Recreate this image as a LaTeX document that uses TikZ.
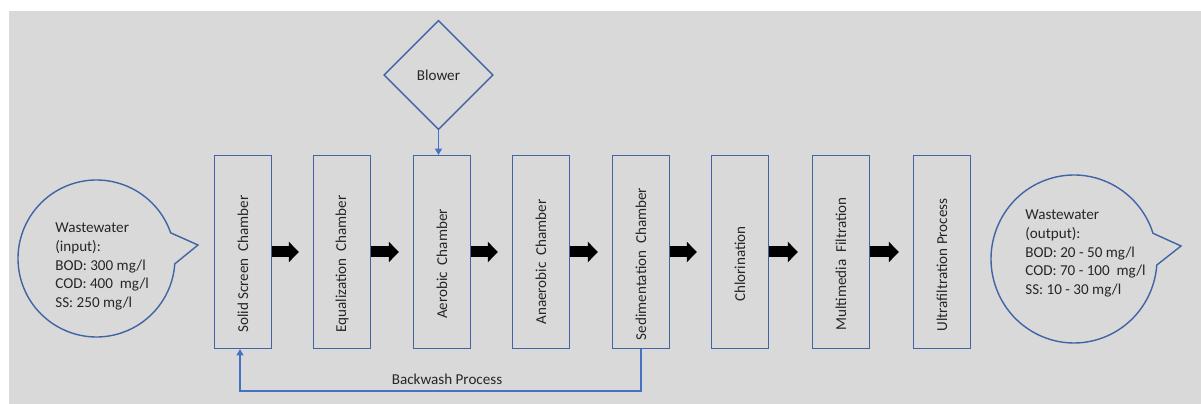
\documentclass[tikz,border=0pt]{standalone}
\usepackage{fontspec}
\setmainfont{Carlito}
\usepackage{tikz}
\usetikzlibrary{
	arrows.meta,shapes.geometric,shapes.callouts
}
\definecolor{bggray}{RGB}{217,217,217}
\definecolor{boxblue}{RGB}{65,100,165}
\definecolor{linkblue}{RGB}{68,114,196}
\definecolor{txtgray}{RGB}{38,38,38}
\tikzset{
	chamber/.style={draw=boxblue,line width=0.8pt,minimum width=1.14cm,minimum height=3.86cm,inner sep=0pt},
	note/.style={text=txtgray,inner sep=0pt,font=\fontsize{8.6}{10.7}\selectfont},
	chambernote/.style={note,rotate=90},
	bubble/.style={ellipse callout,draw=boxblue,line width=0.8pt,callout pointer arc=23,inner sep=0pt},
	flow/.style={line width=0.22cm,-{Triangle[length=0.2cm,width=0.4cm]},shorten >=0.28cm},
	link/.style={draw=linkblue,line width=0.6pt,-{Triangle[length=3.5pt,width=4pt]}}
}

\begin{document}
\begin{tikzpicture}[x=0.02cm,y=-0.02cm]
	\useasboundingbox (0,0) rectangle (1201,404);
	\fill[bggray] (9,11) rectangle (1201,404);
	%
	%  CHAMBERS
	%
	\node[chamber] (A) at (243,252) {};
	\node[chamber] (B) at (342,252) {};
	\node[chamber] (C) at (442,252) {};
	\node[chamber] (D) at (541,252) {};
	\node[chamber] (E) at (641,252) {};
	\node[chamber] (F) at (740,252) {};
	\node[chamber] (G) at (841,252) {};
	\node[chamber] (H) at (942,252) {};
	\node[chambernote] (a) at (243,264) {Solid Screen\ \ Chamber};
	\node[chambernote] (b) at (342,264) {Equalization\ \ Chamber};
	\node[chambernote] (c) at (442,264) {Aerobic\ \ Chamber};
	\node[chambernote] (d) at (541,262) {Anaerobic\ \ Chamber};
	\node[chambernote] (e) at (641,264) {Sedimentation\ \ Chamber};
	\node[chambernote] (f) at (740,264) {Chlorination};
	\node[chambernote] (g) at (841,264) {Multimedia\ \ Filtration};
	\node[chambernote] (h) at (942,265) {Ultrafiltration Process};
	%
	%  INPUT / OUTPUT
	%
	\node[bubble,minimum width=3.14cm,minimum height=3.14cm,callout absolute pointer={(198,245)}] (I) at (96.5,258.5) {};
	\node[note,align=left,anchor=west] (i) at (55,266.5) {Wastewater\\(input):\\BOD: 300 mg/l\\COD: 400\ \ mg/l\\SS: 250 mg/l};
	\node[bubble,minimum width=3.32cm,minimum height=3.36cm,callout pointer arc=22,callout absolute pointer={(1181,246)}] (J) at (1074,259) {};
	\node[note,align=left,anchor=west] (j) at (1025,253.5) {Wastewater\\(output):\\BOD: 20 - 50 mg/l\\COD: 70 - 100\ \ mg/l\\SS: 10 - 30 mg/l};
	%
	\node[diamond,draw=boxblue,line width=0.8pt,minimum width=2.19cm,minimum height=2.19cm,inner sep=0pt,font=\fontsize{8.6}{10.7}\selectfont,text=txtgray] (K) at (438.5,75) {Blower};
	\coordinate (bw) at (240,391);
	\node[note] (N) at (447,379) {Backwash Process};
	%
	\path[flow]
	(A) edge (B)
	(B) edge (C)
	(C) edge (D)
	(D) edge (E)
	(E) edge (F)
	(F) edge (G)
	(G) edge (H);
	\draw[link] (K.south) -- (K.south |- C.north);
	\draw[link] (E.south) |- (bw) -- (bw |- A.south);
\end{tikzpicture}
\end{document}
